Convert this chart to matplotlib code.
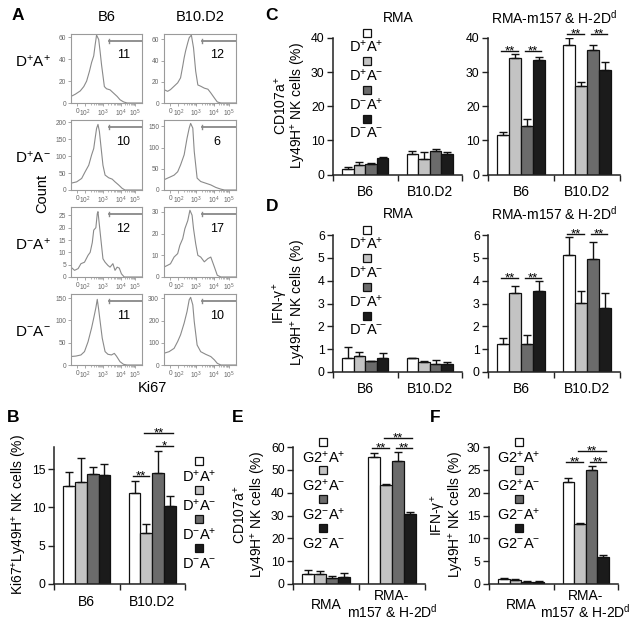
import matplotlib
matplotlib.use('Agg')
import matplotlib.pyplot as plt
import numpy as np

plt.rcParams['font.family'] = ['Liberation Sans', 'DejaVu Sans']
plt.rcParams['mathtext.fontset'] = 'custom'
plt.rcParams['mathtext.rm'] = 'Liberation Sans'
plt.rcParams['mathtext.it'] = 'Liberation Sans:italic'
plt.rcParams['mathtext.bf'] = 'Liberation Sans:bold'
plt.rcParams['mathtext.default'] = 'regular'

# ---------------- DATA ----------------
# Panel A: Ki67 histograms (x = relative position on biexponential axis, y = count)
hist_cols = ['B6', 'B10.D2']
hist_rows = ['D$^{+}$A$^{+}$', 'D$^{+}$A$^{-}$', 'D$^{-}$A$^{+}$', 'D$^{-}$A$^{-}$']
hist_pct = [[11, 12], [10, 6], [12, 17], [11, 10]]
hist_xtick_pos = [0.09, 0.20, 0.45, 0.70, 0.90]
hist_xtick_lab = ['0', '$10^{2}$', '$10^{3}$', '$10^{4}$', '$10^{5}$']

h11_x = [0, .06, .13, .18, .22, .26, .29, .32, .34, .36, .39, .41, .43, .47, .50, .55, .60, .65, .69, .74, .79, 1.0]
h11_y = [6, 8, 11, 15, 20, 29, 37, 43, 53, 62, 58, 47, 35, 15, 13, 12, 9, 6, 3, 1, 0, 0]
h12_x = [0, .05, .09, .14, .19, .23, .26, .28, .30, .33, .35, .38, .41, .44, .47, .51, .56, .61, .65, .70, .74, .79, 1.0]
h12_y = [12.6, 11, 12.6, 15.8, 19, 23.7, 34.7, 42.6, 49, 56.8, 61.5, 64, 52, 30, 17, 15.8, 14, 13, 9.5, 4.7, 1, 0, 0]
h21_x = [0, .08, .15, .20, .25, .29, .32, .34, .36, .38, .40, .42, .45, .48, .53, .58, .62, .67, .72, .76, 1.0]
h21_y = [20, 24, 34, 54, 73, 103, 122, 152, 181, 193, 172, 132, 73, 44, 36, 32, 24, 15, 5, 0, 0]
h22_x = [0, .05, .09, .14, .19, .23, .28, .32, .35, .37, .40, .42, .46, .51, .58, .65, .72, .79, .84, 1.0]
h22_y = [24, 28, 31, 35, 43, 59, 83, 122, 146, 157, 146, 91, 28, 20, 16, 12, 6, 2, 0, 0]
h31_x = [0, .05, .10, .14, .19, .24, .27, .30, .32, .35, .37, .38, .40, .43, .45, .48, .52, .55, .59, .62, .65, .68, .71, .75, 1.0]
h31_y = [4, 2.7, 3.4, 5.4, 6, 8.8, 10, 14, 19, 20, 25.7, 26.5, 21, 12.8, 7.4, 6, 4.7, 4, 5.4, 2.7, 4, 3.6, 1.3, 0, 0]
h32_x = [0, .05, .09, .14, .19, .22, .26, .29, .33, .36, .39, .41, .44, .47, .51, .56, .61, .65, .70, .74, .79, 1.0]
h32_y = [4.6, 5.4, 6.1, 9.2, 10.8, 14.6, 17.7, 22.3, 26, 30.8, 28.5, 22.3, 15.4, 10, 9.2, 7, 8.5, 9.2, 4.6, 0.8, 0, 0]
h41_x = [0, .07, .14, .19, .24, .29, .32, .35, .37, .39, .41, .44, .48, .52, .57, .61, .64, .69, .74, .79, 1.0]
h41_y = [19, 20, 22.5, 30, 52, 83, 105, 128, 147, 124, 98, 60, 30, 24, 22.5, 26, 20, 7.5, 1.5, 0, 0]
h42_x = [0, .07, .14, .19, .23, .28, .32, .35, .37, .40, .42, .46, .51, .58, .65, .70, .74, .79, 1.0]
h42_y = [53, 60, 75, 106, 136, 189, 241, 294, 305, 271, 196, 90, 60, 48, 38, 23, 7.5, 0, 0]
hist_x = [[h11_x, h12_x], [h21_x, h22_x], [h31_x, h32_x], [h41_x, h42_x]]
hist_y = [[h11_y, h12_y], [h21_y, h22_y], [h31_y, h32_y], [h41_y, h42_y]]
hist_ymax = [[63, 65], [206, 165], [28.4, 32.3], [159, 320]]
hist_yticks = [[[0, 20, 40, 60], [0, 20, 40, 60]],
               [[0, 50, 100, 150, 200], [0, 50, 100, 150]],
               [[0, 5, 10, 15, 20, 25], [0, 10, 20, 30]],
               [[0, 50, 100, 150], [0, 100, 200, 300]]]

# Bar panels
legend_D = ['D$^{+}$A$^{+}$', 'D$^{+}$A$^{-}$', 'D$^{-}$A$^{+}$', 'D$^{-}$A$^{-}$']
legend_G = ['G2$^{+}$A$^{+}$', 'G2$^{+}$A$^{-}$', 'G2$^{-}$A$^{+}$', 'G2$^{-}$A$^{-}$']
strains = ['B6', 'B10.D2']
targets = ['RMA', 'RMA-\nm157 & H-2D$^{d}$']

B_mean = [[12.8, 13.3, 14.4, 14.3], [11.9, 6.7, 14.5, 10.2]]
B_err = [[1.8, 3.1, 0.9, 1.4], [1.5, 1.1, 2.9, 1.3]]

C_rma_mean = [[1.7, 2.9, 3.0, 4.9], [6.1, 4.4, 6.8, 6.0]]
C_rma_err = [[0.4, 0.8, 0.3, 0.1], [0.9, 2.1, 0.8, 0.5]]
C_m157_mean = [[11.5, 34.2, 14.3, 33.6], [38.0, 26.0, 36.6, 30.5]]
C_m157_err = [[0.9, 1.1, 2.1, 0.8], [1.9, 1.0, 1.4, 2.5]]

D_rma_mean = [[0.61, 0.70, 0.47, 0.60], [0.60, 0.43, 0.35, 0.37]]
D_rma_err = [[0.49, 0.17, 0.01, 0.23], [0.03, 0.04, 0.18, 0.05]]
D_m157_mean = [[1.23, 3.46, 1.23, 3.55], [5.13, 3.03, 4.95, 2.80]]
D_m157_err = [[0.27, 0.31, 0.37, 0.45], [0.77, 0.52, 0.75, 0.67]]

E_mean = [[4.4, 4.2, 2.7, 3.1], [55.7, 43.4, 53.9, 30.8]]
E_err = [[1.8, 1.7, 0.8, 1.6], [1.7, 0.4, 4.0, 0.8]]

F_mean = [[1.0, 0.8, 0.5, 0.5], [22.3, 13.1, 24.9, 5.9]]
F_err = [[0.3, 0.2, 0.1, 0.2], [0.9, 0.2, 0.9, 0.5]]

# significance: (group, bar_i, bar_j, y, label)
B_sig = [(1, 0, 1, 14.1, '**'), (1, 2, 3, 18.0, '*'), (1, 1, 3, 19.7, '**')]
C_sig = [(0, 0, 1, 36.2, '**'), (0, 2, 3, 36.2, '**'), (1, 0, 1, 41.2, '**'), (1, 2, 3, 41.2, '**')]
D_sig = [(0, 0, 1, 4.12, '**'), (0, 2, 3, 4.12, '**'), (1, 0, 1, 6.05, '**'), (1, 2, 3, 6.05, '**')]
E_sig = [(1, 0, 1, 59.6, '**'), (1, 2, 3, 59.6, '**'), (1, 1, 3, 64.0, '**')]
F_sig = [(1, 0, 1, 26.7, '**'), (1, 2, 3, 26.7, '**'), (1, 1, 3, 29.1, '**')]

# ---------------- FIGURE ----------------
W, H = 639, 629
fig = plt.figure(figsize=(W / 100, H / 100), dpi=100)


def axpx(l, t, r, b):
    return fig.add_axes([l / W, 1 - b / H, (r - l) / W, (b - t) / H])


def ftext(x, y, s, **kw):
    fig.text(x / W, 1 - y / H, s, **kw)


bar_colors = ['#ffffff', '#c3c3c3', '#6b6b6b', '#1b1b1b']
offsets = np.array([-0.27, -0.09, 0.09, 0.27])
bw = 0.18
PX = 0.72  # points per pixel


def bar_panel(ax, means, errs, ylim, yticks, xlabels, sigs, label_dy=17):
    for g in range(len(means)):
        xs = g + offsets
        ax.bar(xs, means[g], bw, color=bar_colors, edgecolor='#111111', linewidth=0.9, zorder=2)
        ax.errorbar(xs, means[g], yerr=[np.zeros(4), errs[g]], fmt='none', ecolor='#111111',
                    elinewidth=1.0, capsize=3, capthick=1.0, zorder=3)
    ax.set_xlim(-0.5, 1.5)
    ax.set_ylim(*ylim)
    for s in ['top', 'right']:
        ax.spines[s].set_visible(False)
    for s in ['left', 'bottom']:
        ax.spines[s].set_color('#222222')
        ax.spines[s].set_linewidth(1.1)
    ax.set_yticks(yticks)
    ax.set_xticks([-0.5, 0.5, 1.5])
    ax.set_xticklabels(['', '', ''])
    ax.tick_params(axis='y', direction='out', length=4, width=1, labelsize=8.8, pad=2, color='#222222')
    ax.tick_params(axis='x', direction='out', length=4, width=1, color='#222222')
    for g, lab in enumerate(xlabels):
        ax.annotate(lab, xy=(g, 0), xycoords=('data', 'axes fraction'), xytext=(0, -label_dy * PX),
                    textcoords='offset points', ha='center', va='center', fontsize=10,
                    linespacing=1.0, annotation_clip=False)
    for (g, i, j, y, lab) in sigs:
        x0 = g + offsets[i] - 0.03
        x1 = g + offsets[j] + 0.04
        ax.plot([x0, x1], [y, y], color='#111111', lw=1.0, clip_on=False, zorder=4)
        ax.annotate(lab, xy=((x0 + x1) / 2, y), xytext=(0, -2.5), textcoords='offset points',
                    ha='center', va='baseline', fontsize=9.5, annotation_clip=False)


def legend(ax, labels, xf, sq_top, dy, lab_off):
    for k in range(4):
        ys = sq_top - k * dy
        ax.plot([xf], [ys], marker='s', ms=6.3, mfc=bar_colors[k], mec='#111111', mew=0.9,
                transform=ax.transAxes, clip_on=False, zorder=5)
        ax.text(xf, ys - lab_off, labels[k], transform=ax.transAxes, ha='center', va='center',
                fontsize=10.5, clip_on=False)


# ---- Panel A ----
hist_box_x = [(71, 142), (164, 236)]
hist_box_y = [(34, 103), (120, 190), (207, 277), (294, 365)]
minor_pos = []
for a, span in [(0.20, 0.25), (0.45, 0.25), (0.70, 0.20)]:
    for k in range(2, 10):
        minor_pos.append(a + span * np.log10(k))

for r in range(4):
    for c in range(2):
        l, rr = hist_box_x[c]
        t, b = hist_box_y[r]
        ax = axpx(l, t, rr, b)
        ax.plot(hist_x[r][c], hist_y[r][c], color='#8a8a8a', lw=0.8)
        ax.set_xlim(0, 1)
        ax.set_ylim(0, hist_ymax[r][c])
        for s in ax.spines.values():
            s.set_color('#9a9a9a')
            s.set_linewidth(0.8)
        ax.set_yticks(hist_yticks[r][c])
        ax.set_yticklabels([str(v) for v in hist_yticks[r][c]])
        ax.set_xticks(hist_xtick_pos)
        ax.set_xticklabels(hist_xtick_lab)
        ax.set_xticks(minor_pos, minor=True)
        ax.tick_params(axis='both', which='major', length=2, width=0.6, color='#999999',
                       labelsize=4.8, labelcolor='#666666', pad=1.5)
        ax.tick_params(axis='x', which='minor', length=1.2, width=0.5, color='#999999')
        ax.plot([0.53, 1.0], [0.90, 0.90], color='#888888', lw=1.3, transform=ax.transAxes, clip_on=False)
        ax.plot([0.53, 0.53], [0.87, 0.93], color='#888888', lw=1.0, transform=ax.transAxes)
        ax.text(0.74, 0.69, str(hist_pct[r][c]), transform=ax.transAxes, ha='center', va='center',
                fontsize=9)

ftext(18, 16, 'A', fontsize=12.5, fontweight='bold', ha='center', va='center')
for c, name in enumerate(hist_cols):
    ftext((hist_box_x[c][0] + hist_box_x[c][1]) / 2, 17, name, fontsize=10.5, ha='center', va='center')
for r, name in enumerate(hist_rows):
    ftext(33, [62, 158, 245, 332][r], name, fontsize=11, ha='center', va='center')
ftext(42, 193, 'Count', fontsize=10.5, rotation=90, ha='center', va='center')
ftext(152, 388, 'Ki67', fontsize=10.5, ha='center', va='center')

# ---- Panel B ----
axB = axpx(54, 447, 185, 584)
bar_panel(axB, B_mean, B_err, (0, 17.9), [0, 5, 10, 15], strains, B_sig, label_dy=18)
legend(axB, legend_D, 1.11, 0.90, 0.213, 0.115)
ftext(20, 515, 'Ki67$^{+}$Ly49H$^{+}$ NK cells (%)', fontsize=10, rotation=90, ha='center', va='center')
ftext(13, 417, 'B', fontsize=12.5, fontweight='bold', ha='center', va='center')

# ---- Panel C ----
axC1 = axpx(333, 38, 462, 174.5)
bar_panel(axC1, C_rma_mean, C_rma_err, (0, 40), [0, 10, 20, 30, 40], strains, [])
legend(axC1, legend_D, 0.26, 1.04, 0.21, 0.105)
axC2 = axpx(488, 38, 620, 174.5)
bar_panel(axC2, C_m157_mean, C_m157_err, (0, 40), [0, 10, 20, 30, 40], strains, C_sig)
ftext(398, 18, 'RMA', fontsize=10, ha='center', va='center')
ftext(554, 18, 'RMA-m157 & H-2D$^{d}$', fontsize=10, ha='center', va='center')
ftext(281, 106, 'CD107a$^{+}$', fontsize=10, rotation=90, ha='center', va='center')
ftext(299, 106, 'Ly49H$^{+}$ NK cells (%)', fontsize=10, rotation=90, ha='center', va='center')
ftext(272, 15, 'C', fontsize=12.5, fontweight='bold', ha='center', va='center')

# ---- Panel D ----
axD1 = axpx(333, 235, 462, 372)
bar_panel(axD1, D_rma_mean, D_rma_err, (0, 6), [0, 1, 2, 3, 4, 5, 6], strains, [])
legend(axD1, legend_D, 0.26, 1.04, 0.21, 0.105)
axD2 = axpx(488, 235, 620, 372)
bar_panel(axD2, D_m157_mean, D_m157_err, (0, 6), [0, 1, 2, 3, 4, 5, 6], strains, D_sig)
ftext(398, 214, 'RMA', fontsize=10, ha='center', va='center')
ftext(554, 214, 'RMA-m157 & H-2D$^{d}$', fontsize=10, ha='center', va='center')
ftext(281, 303, 'IFN-γ$^{+}$', fontsize=10, rotation=90, ha='center', va='center')
ftext(299, 303, 'Ly49H$^{+}$ NK cells (%)', fontsize=10, rotation=90, ha='center', va='center')
ftext(272, 207, 'D', fontsize=12.5, fontweight='bold', ha='center', va='center')

# ---- Panel E ----
axE = axpx(293, 447, 425, 584)
bar_panel(axE, E_mean, E_err, (0, 60), [0, 10, 20, 30, 40, 50, 60], targets, E_sig, label_dy=21)
legend(axE, legend_G, 0.23, 1.04, 0.21, 0.115)
ftext(240, 515, 'CD107a$^{+}$', fontsize=10, rotation=90, ha='center', va='center')
ftext(258, 515, 'Ly49H$^{+}$ NK cells (%)', fontsize=10, rotation=90, ha='center', va='center')
ftext(238, 417, 'E', fontsize=12.5, fontweight='bold', ha='center', va='center')

# ---- Panel F ----
axF = axpx(489, 447, 618, 584)
bar_panel(axF, F_mean, F_err, (0, 30), [0, 5, 10, 15, 20, 25, 30], targets, F_sig, label_dy=21)
legend(axF, legend_G, 0.23, 1.04, 0.21, 0.115)
ftext(438, 515, 'IFN-γ$^{+}$', fontsize=10, rotation=90, ha='center', va='center')
ftext(456, 515, 'Ly49H$^{+}$ NK cells (%)', fontsize=10, rotation=90, ha='center', va='center')
ftext(435, 417, 'F', fontsize=12.5, fontweight='bold', ha='center', va='center')

fig.savefig('out.png', dpi=100)
